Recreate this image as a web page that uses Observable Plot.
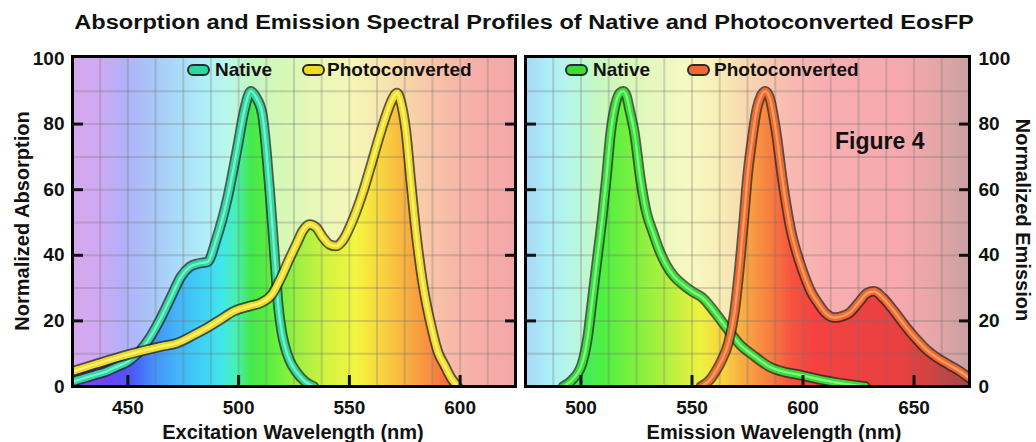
<!DOCTYPE html>
<html>
<head>
<meta charset="utf-8">
<script src="https://cdn.jsdelivr.net/npm/d3@7"></script>
<script src="https://cdn.jsdelivr.net/npm/@observablehq/plot@0.6"></script>
<style>
  body { margin: 0; background: #fff; }
  #wrap { position: relative; width: 1036px; height: 442px; overflow: hidden; font-family: "Liberation Sans", Arial, sans-serif; color: #111; }
  .abs { position: absolute; white-space: nowrap; font-weight: bold; }
  .sw { position: absolute; width: 19px; height: 8px; border-radius: 6px; border: 2px solid #2a2a2a; transform: translateY(-50%); }
  .lg { position: absolute; font-weight: bold; font-size: 19px; transform: translateY(-50%); white-space: nowrap; }
</style>
</head>
<body>
<div id="wrap"></div>
<script>
// ---------- data ----------
const excitationTicks = [450, 500, 550, 600];
const emissionTicks = [500, 550, 600, 650];
const yTickLabels = [0, 20, 40, 60, 80, 100];
const yInnerTicks = [20, 40, 60, 80];
const yGrid = [10, 20, 30, 40, 50, 60, 70, 80, 90];
const excitationDomain = [425, 625];
const emissionDomain = [475, 675];

// Native absorption (teal)
const nativeAbsNm = [425, 430, 435, 440, 445, 450, 455, 460, 465, 470, 474, 478, 482, 486, 490, 495, 499.5, 502.5, 505.5, 508, 510.7, 512.5, 514, 516, 518, 519.5, 521, 523, 526, 530, 534];
const nativeAbsVal = [1.5, 2.5, 3.5, 4.5, 6, 7.6, 10.5, 15, 21, 28, 33.5, 36.5, 37.5, 38, 45, 57.5, 73, 84, 90, 88, 83, 72, 60, 42, 24, 16.5, 12, 8, 4.5, 1.5, 0];

// Photoconverted absorption (yellow)
const photoAbsNm = [425, 435, 450, 465, 472, 480, 486, 492, 498, 505, 510, 515, 519, 523, 526.5, 529, 532, 535, 538, 541, 544, 547, 552, 556, 560, 563, 566, 569, 571.5, 573.5, 575.5, 577.7, 580, 583, 587.5, 590, 592.8, 596, 599];
const photoAbsVal = [4.6, 6.7, 9.7, 12.2, 13.2, 15.8, 18, 20.5, 23, 24.5, 25.5, 28, 33, 39, 44, 47.5, 49.4, 48.5, 45.5, 43.3, 42.8, 44.5, 51.5, 59, 68, 75, 81.5, 87, 89.5, 86, 78, 62.7, 47.4, 32, 16.8, 10.5, 6.7, 2.5, 0];

// Native emission (green)
const nativeEmNm = [492, 496, 500.5, 503, 505, 507.5, 509.5, 511.5, 513.3, 515.5, 517.5, 519, 520.5, 522, 523.9, 526.9, 529.5, 532.2, 535, 538.2, 542, 545.7, 550, 554.8, 561, 566, 572, 577, 585, 600, 615, 628];
const nativeEmVal = [0, 2, 7, 15, 26, 40, 51, 64, 77, 86, 89.5, 90, 88.5, 84, 78, 62.7, 53, 47.4, 42, 37.3, 33.5, 31.2, 29, 27, 22, 17.5, 12.5, 9.8, 6, 3.3, 1.2, 0];

// Photoconverted emission (orange)
const photoEmNm = [554, 558, 561, 563, 566.5, 569, 571.5, 573.5, 575, 577, 579, 581, 583, 585, 587.8, 590.8, 594.6, 597.5, 600.5, 603.5, 606.7, 610, 614.5, 618, 621, 625, 629, 632, 636, 641, 646, 651, 656, 661, 666, 671, 675];
const photoEmVal = [0, 2, 5, 7.5, 13.5, 22, 37, 52, 64, 75, 84, 88.5, 90, 88, 78, 62.7, 47.4, 40, 34, 29, 25.5, 22.5, 21, 21.5, 22.5, 25.5, 28.5, 29, 27, 23, 18.5, 14.5, 11, 8.5, 6.5, 4.5, 2.5];

const toRows = (nm, v) => nm.map((d, i) => ({nm: d, v: v[i]}));
const nativeAbs = toRows(nativeAbsNm, nativeAbsVal);
const photoAbs = toRows(photoAbsNm, photoAbsVal);
const nativeEm = toRows(nativeEmNm, nativeEmVal);
const photoEm = toRows(photoEmNm, photoEmVal);

// ---------- colour stops (styles) ----------
const pastelL = [[425, "#d7a8ee"], [437, "#cfa9f3"], [448, "#b2b0f9"], [460, "#a9c4f8"], [472, "#a9dbf8"], [485, "#b0eef8"], [495, "#b8f8ea"], [505, "#c2f8c6"], [518, "#d4f8b6"], [535, "#e8f8b8"], [552, "#f6f6b6"], [565, "#f8e6ae"], [578, "#f8d2a8"], [592, "#f8bea8"], [605, "#f7b0a8"], [625, "#f4a6a8"]];
const satL = [[425, "#8a4cf0"], [440, "#6a44f4"], [452, "#4a58f8"], [462, "#4490f8"], [472, "#42b4f8"], [482, "#40ccf6"], [492, "#40e6ec"], [499, "#48f0b4"], [506, "#44e84a"], [516, "#62f040"], [528, "#a2f042"], [540, "#d2f442"], [553, "#f4f640"], [565, "#f8d440"], [576, "#f8b040"], [587, "#f88c40"], [596, "#f26440"], [605, "#ee4a40"], [625, "#e84040"]];
const pastelR = [[475, "#a8d6f6"], [486, "#acf0f8"], [496, "#b8f6e6"], [506, "#c4f8c4"], [520, "#d8f8b8"], [536, "#eaf8c0"], [550, "#f8f8c2"], [562, "#f8eeb8"], [572, "#f8dcb0"], [583, "#f8cab0"], [595, "#f8b8b0"], [610, "#f8aeb0"], [645, "#f6a8ae"], [660, "#e6a6a8"], [675, "#c8a0a2"]];
const satR = [[475, "#40c8f0"], [490, "#40e2d2"], [500, "#42ea62"], [510, "#4ef042"], [525, "#80f040"], [540, "#b8f040"], [554, "#eef240"], [565, "#f8d040"], [575, "#f8a442"], [585, "#f88040"], [595, "#f65440"], [605, "#f44242"], [645, "#e84040"], [662, "#c84444"], [675, "#a04848"]];

const FONT = '"Liberation Sans", Arial, sans-serif';
const curve = "monotone-x";

function gradients(domain, defs) {
  return (index, scales) => {
    const x = scales.x;
    const [d0, d1] = domain;
    const g = d3.create("svg:g");
    const df = g.append("defs");
    for (const [id, stops] of defs) {
      const lg = df.append("linearGradient").attr("id", id)
        .attr("gradientUnits", "userSpaceOnUse")
        .attr("x1", x(d0)).attr("x2", x(d1)).attr("y1", 0).attr("y2", 0);
      for (const [nm, c] of stops) lg.append("stop").attr("offset", (nm - d0) / (d1 - d0)).attr("stop-color", c);
    }
    return g.node();
  };
}

function tube(data, color, light) {
  return [
    Plot.line(data, {x: "nm", y: "v", stroke: "#1e1e1e", strokeOpacity: 0.72, strokeWidth: 10.5, curve, clip: "frame"}),
    Plot.line(data, {x: "nm", y: "v", stroke: color, strokeWidth: 7, curve, clip: "frame"}),
    Plot.line(data, {x: "nm", y: "v", stroke: light, strokeOpacity: 0.85, strokeWidth: 2.2, curve, clip: "frame"})
  ];
}

function panel({domain, ticks, bgId, satId, pastel, sat, series, left}) {
  const gridX = d3.range(domain[0] + 12.5, domain[1], 12.5);
  return Plot.plot({
    width: left ? 520 : 516,
    height: 442,
    marginLeft: left ? 72 : 5,
    marginRight: left ? 5 : 67,
    marginTop: 56,
    marginBottom: 56,
    style: `font-family:${FONT};font-size:19px;font-weight:bold;color:#111;background:transparent;overflow:visible`,
    x: {domain, label: null},
    y: {domain: [0, 100.6], label: null},
    marks: [
      gradients(domain, [[bgId, pastel], [satId, sat]]),
      Plot.frame({fill: `url(#${bgId})`, stroke: "none"}),
      ...series.map(([d]) => Plot.areaY(d, {x: "nm", y: "v", fill: `url(#${satId})`, curve, clip: "frame"})),
      Plot.gridX(gridX, {stroke: "#707070", strokeOpacity: 0.28, strokeWidth: 2}),
      Plot.gridY(yGrid, {stroke: "#707070", strokeOpacity: 0.28, strokeWidth: 2}),
      ...series.flatMap(([d, c, l]) => tube(d, c, l)),
      Plot.frame({stroke: "#000", strokeWidth: 3}),
      Plot.axisY(yTickLabels, {anchor: left ? "left" : "right", tickSize: 0, tickPadding: left ? 8 : 9, label: null}),
      Plot.axisY(yInnerTicks, {anchor: "left", tickSize: -11, strokeWidth: 3, fill: "none", label: null}),
      Plot.axisY(yInnerTicks, {anchor: "right", tickSize: -11, strokeWidth: 3, fill: "none", label: null}),
      Plot.axisX(ticks, {anchor: "bottom", tickSize: 0, tickPadding: 14, label: null}),
      Plot.axisX(ticks, {anchor: "bottom", tickSize: -11, strokeWidth: 3, fill: "none", label: null})
    ]
  });
}

const wrap = document.getElementById("wrap");

const leftPlot = panel({
  domain: excitationDomain, ticks: excitationTicks, bgId: "bgL", satId: "satL",
  pastel: pastelL, sat: satL, left: true,
  series: [[nativeAbs, "#2ed8a2", "#8af4d2"], [photoAbs, "#f0dc22", "#fff486"]]
});
leftPlot.style.position = "absolute"; leftPlot.style.left = "0px"; leftPlot.style.top = "0px";
wrap.appendChild(leftPlot);

const rightPlot = panel({
  domain: emissionDomain, ticks: emissionTicks, bgId: "bgR", satId: "satR",
  pastel: pastelR, sat: satR, left: false,
  series: [[nativeEm, "#34e034", "#98f898"], [photoEm, "#f06a2c", "#f8a678"]]
});
rightPlot.style.position = "absolute"; rightPlot.style.left = "520px"; rightPlot.style.top = "0px";
wrap.appendChild(rightPlot);

// ---------- text overlays ----------
function addText(txt, css) {
  const d = document.createElement("div");
  d.className = "abs";
  d.textContent = txt;
  Object.assign(d.style, css);
  wrap.appendChild(d);
  return d;
}
addText("Absorption and Emission Spectral Profiles of Native and Photoconverted EosFP",
  {left: "524px", top: "22px", fontSize: "20px", transform: "translate(-50%,-50%) scaleX(1.18)"});
addText("Excitation Wavelength (nm)", {left: "293px", top: "432px", fontSize: "20px", transform: "translate(-50%,-50%)"});
addText("Emission Wavelength (nm)", {left: "774px", top: "432px", fontSize: "20px", transform: "translate(-50%,-50%)"});
addText("Normalized Absorption", {left: "22px", top: "221px", fontSize: "20px", transform: "translate(-50%,-50%) rotate(-90deg)"});
addText("Normalized Emission", {left: "1022px", top: "220px", fontSize: "20px", transform: "translate(-50%,-50%) rotate(90deg)"});
addText("Figure 4", {left: "835px", top: "141px", fontSize: "23px", transform: "translateY(-50%)"});

const legendItems = [
  ["Native", "#2ed8a2", 187, 215],
  ["Photoconverted", "#f0dc22", 302, 327],
  ["Native", "#34e034", 565, 593],
  ["Photoconverted", "#f06a2c", 687, 714]
];
for (const [label, color, sx, tx] of legendItems) {
  const s = document.createElement("div");
  s.className = "sw";
  Object.assign(s.style, {left: sx + "px", top: "70px", background: color});
  wrap.appendChild(s);
  const t = document.createElement("div");
  t.className = "lg";
  t.textContent = label;
  Object.assign(t.style, {left: tx + "px", top: "70px"});
  wrap.appendChild(t);
}
</script>
</body>
</html>
